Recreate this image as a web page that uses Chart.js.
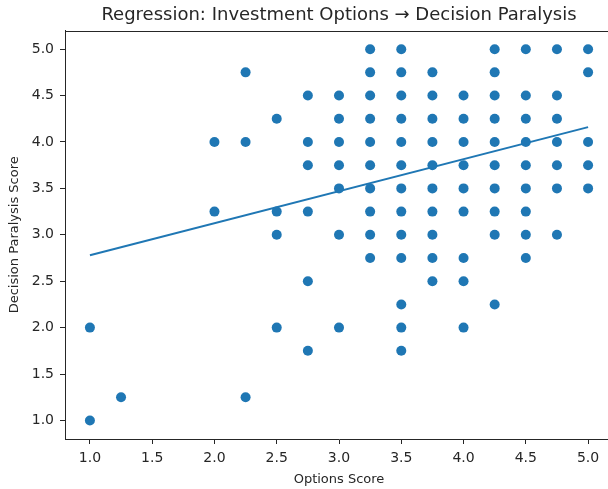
<!DOCTYPE html>
<html>
<head>
<meta charset="utf-8">
<script src="https://cdn.jsdelivr.net/npm/chart.js@4/dist/chart.umd.min.js"></script>
<style>
  html, body { margin: 0; padding: 0; background: #fff; overflow: hidden; }
  #wrap { width: 618px; height: 489px; }
</style>
</head>
<body>
<div id="wrap"><canvas id="chart" width="618" height="489"></canvas></div>
<script>
// Options score columns and the paralysis scores found at each one
const optionsLevels = [1.0, 1.25, 2.0, 2.25, 2.5, 2.75, 3.0, 3.25, 3.5, 3.75, 4.0, 4.25, 4.5, 4.75, 5.0];
const paralysisAtLevel = [
  [2.0, 1.0],
  [1.25],
  [4.0, 3.25],
  [4.75, 4.0, 1.25],
  [4.25, 3.25, 3.0, 2.0],
  [4.5, 4.0, 3.75, 3.25, 2.5, 1.75],
  [4.5, 4.25, 4.0, 3.75, 3.5, 3.0, 2.0],
  [5.0, 4.75, 4.5, 4.25, 4.0, 3.75, 3.5, 3.25, 3.0, 2.75],
  [5.0, 4.75, 4.5, 4.25, 4.0, 3.75, 3.5, 3.25, 3.0, 2.75, 2.25, 2.0, 1.75],
  [4.75, 4.5, 4.25, 4.0, 3.75, 3.5, 3.25, 3.0, 2.75, 2.5],
  [4.5, 4.25, 4.0, 3.75, 3.5, 3.25, 2.75, 2.5, 2.0],
  [5.0, 4.75, 4.5, 4.25, 4.0, 3.75, 3.5, 3.25, 3.0, 2.25],
  [5.0, 4.5, 4.25, 4.0, 3.75, 3.5, 3.25, 3.0, 2.75],
  [5.0, 4.5, 4.25, 4.0, 3.75, 3.5, 3.0],
  [5.0, 4.75, 4.0, 3.75, 3.5],
];

// fitted line end points
const fitX = [1.0, 5.0];
const fitY = [2.78, 4.16];

const tickValues = [1.0, 1.5, 2.0, 2.5, 3.0, 3.5, 4.0, 4.5, 5.0];

const blue = '#1f77b4';
const ink = '#262626';

const scatterPoints = [];
optionsLevels.forEach((x, i) => {
  paralysisAtLevel[i].forEach((y) => scatterPoints.push({ x, y }));
});
const linePoints = fitX.map((x, i) => ({ x, y: fitY[i] }));

// top spine (right spine falls outside the window, as in the original)
const frame = {
  id: 'frame',
  afterDraw(chart) {
    const { ctx, chartArea: a } = chart;
    ctx.save();
    ctx.strokeStyle = ink;
    ctx.lineWidth = 1;
    ctx.beginPath();
    ctx.moveTo(a.left, Math.round(a.top) + 0.5);
    ctx.lineTo(a.right, Math.round(a.top) + 0.5);
    ctx.stroke();
    ctx.restore();
  },
};

const axisCommon = {
  type: 'linear',
  min: 0.8,
  max: 5.2,
  afterBuildTicks: (scale) => {
    scale.ticks = tickValues.map((v) => ({ value: v }));
  },
  grid: {
    drawOnChartArea: false,
    drawTicks: true,
    tickLength: 5,
    color: ink,
  },
  border: { display: true, color: ink },
  ticks: {
    color: ink,
    font: { family: 'DejaVu Sans', size: 14 },
    padding: 6,
    callback: (v) => Number(v).toFixed(1),
  },
};

new Chart(document.getElementById('chart'), {
  type: 'scatter',
  data: {
    datasets: [
      {
        data: scatterPoints,
        backgroundColor: blue,
        borderColor: blue,
        pointRadius: 5,
        pointHoverRadius: 5,
        borderWidth: 0,
      },
      {
        type: 'line',
        data: linePoints,
        borderColor: blue,
        borderWidth: 2,
        pointRadius: 0,
        fill: false,
      },
    ],
  },
  options: {
    responsive: false,
    animation: false,
    layout: { padding: { left: 0, right: 2, top: 0, bottom: 0 } },
    plugins: {
      legend: { display: false },
      tooltip: { enabled: false },
      title: {
        display: true,
        fullSize: false,
        text: 'Regression: Investment Options → Decision Paralysis',
        color: ink,
        font: { family: 'DejaVu Sans', size: 18, weight: 'normal' },
        padding: { top: 5, bottom: 4 },
      },
    },
    scales: {
      x: {
        ...axisCommon,
        position: 'bottom',
        afterFit: (scale) => {
          scale.height = 50;
          scale.paddingLeft = 0;
          scale.paddingRight = 0;
        },
        title: {
          display: true,
          text: 'Options Score',
          color: ink,
          font: { family: 'DejaVu Sans', size: 13 },
          padding: { top: 4, bottom: 2 },
        },
      },
      y: {
        ...axisCommon,
        position: 'left',
        afterFit: (scale) => {
          scale.width = 65;
          scale.paddingTop = 0;
          scale.paddingBottom = 0;
        },
        title: {
          display: true,
          text: 'Decision Paralysis Score',
          color: ink,
          font: { family: 'DejaVu Sans', size: 13 },
          padding: { top: 7, bottom: 4 },
        },
      },
    },
  },
  plugins: [frame],
});
</script>
</body>
</html>
